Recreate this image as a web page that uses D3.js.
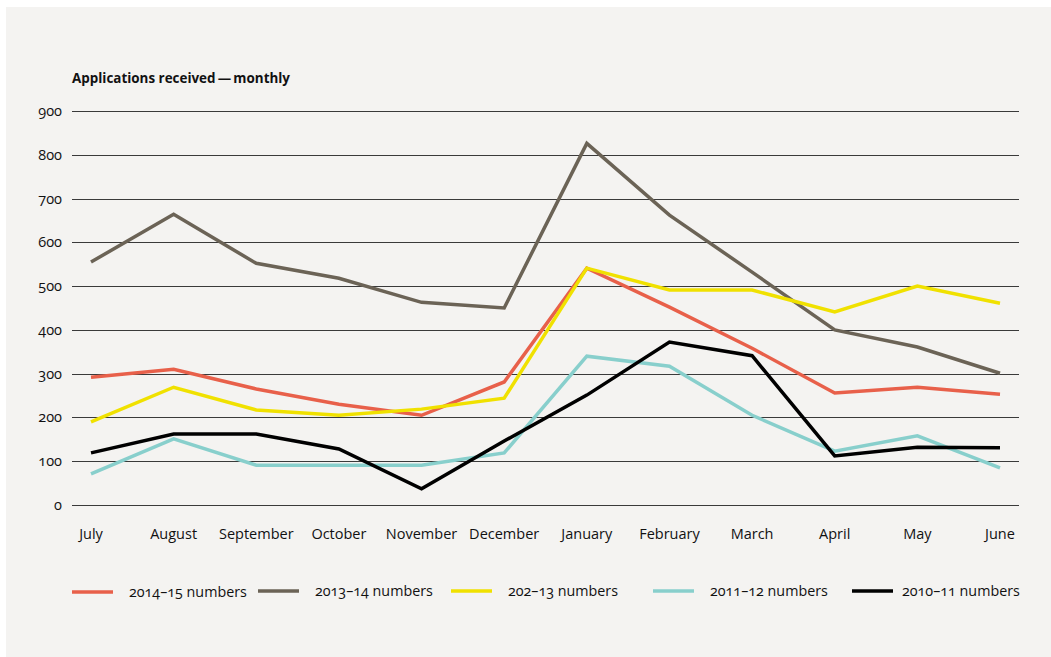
<!DOCTYPE html>
<html><head><meta charset="utf-8">
<script src="https://cdn.jsdelivr.net/npm/d3@7"></script>
<style>
html,body{margin:0;padding:0;background:#fff;}
svg{display:block;}
text{font-family:"Open Sans",Lato,sans-serif;font-feature-settings:"onum" 1;font-variant-numeric:oldstyle-nums;fill:#111;}
</style></head><body>
<svg id="c" width="1051" height="657"></svg>
<script>
const months = ["July","August","September","October","November","December","January","February","March","April","May","June"];
const yTicks = [0,100,200,300,400,500,600,700,800,900];
const seriesNames = ["2014–15 numbers","2013–14 numbers","202–13 numbers","2011–12 numbers","2010–11 numbers"];
const seriesColors = ["#e8604a","#6b6356","#f0e100","#88cfcc","#000000"];
const v2014 = [292,310,265,230,205,281,541,452,358,256,269,253];
const v2013 = [555,664,552,518,463,450,826,662,532,400,361,301];
const v2012 = [190,269,217,205,219,244,541,491,491,441,500,461];
const v2011 = [71,151,91,91,91,119,340,317,205,123,158,85];
const v2010 = [119,162,162,128,37,146,251,372,341,112,132,131];
const allValues = [v2014,v2013,v2012,v2011,v2010];

const svg = d3.select("#c");
svg.append("rect").attr("x",6).attr("y",7).attr("width",1045).attr("height",650).attr("fill","#f4f3f1");

const x = d3.scalePoint().domain(months).range([91,1000]);
const y = d3.scaleLinear().domain([0,900]).range([505,111]);

svg.append("text").attr("x",72).attr("y",83).attr("font-weight","bold").attr("font-size",14)
  .attr("textLength",218).attr("lengthAdjust","spacingAndGlyphs")
  .text("Applications received\u2009—\u2009monthly");

const g = svg.append("g");
g.selectAll("line.grid").data(yTicks).join("line").attr("class","grid")
  .attr("x1",72).attr("x2",1019)
  .attr("y1",d=>Math.round(y(d))+0.5).attr("y2",d=>Math.round(y(d))+0.5)
  .attr("stroke","#3a3a3a").attr("stroke-width",1);
g.selectAll("text.yl").data(yTicks).join("text").attr("class","yl")
  .attr("x",62).attr("y",d=>y(d)+5).attr("text-anchor","end").attr("font-size",14.5).text(d=>d);
g.selectAll("text.xl").data(months).join("text").attr("class","xl")
  .attr("x",d=>x(d)).attr("y",539).attr("text-anchor","middle").attr("font-size",14.5).text(d=>d);

const line = d3.line().x((d,i)=>x(months[i])).y(d=>y(d));
const order = [1,0,2,3,4];
order.forEach(i=>{
  svg.append("path").datum(allValues[i]).attr("d",line).attr("fill","none")
    .attr("stroke",seriesColors[i]).attr("stroke-width",3.5).attr("stroke-linejoin","miter");
});

const legX = [72,258,451,653,852];
const legY = [592,591,591,591,591];
const leg = svg.append("g");
seriesNames.forEach((n,i)=>{
  leg.append("line").attr("x1",legX[i]).attr("x2",legX[i]+41).attr("y1",legY[i]).attr("y2",legY[i])
    .attr("stroke",seriesColors[i]).attr("stroke-width",3.5);
  leg.append("text").attr("x",legX[i]+ (i===4?50:57)).attr("y",legY[i]+5).attr("font-size",14.3).text(n);
});
</script>
</body></html>
